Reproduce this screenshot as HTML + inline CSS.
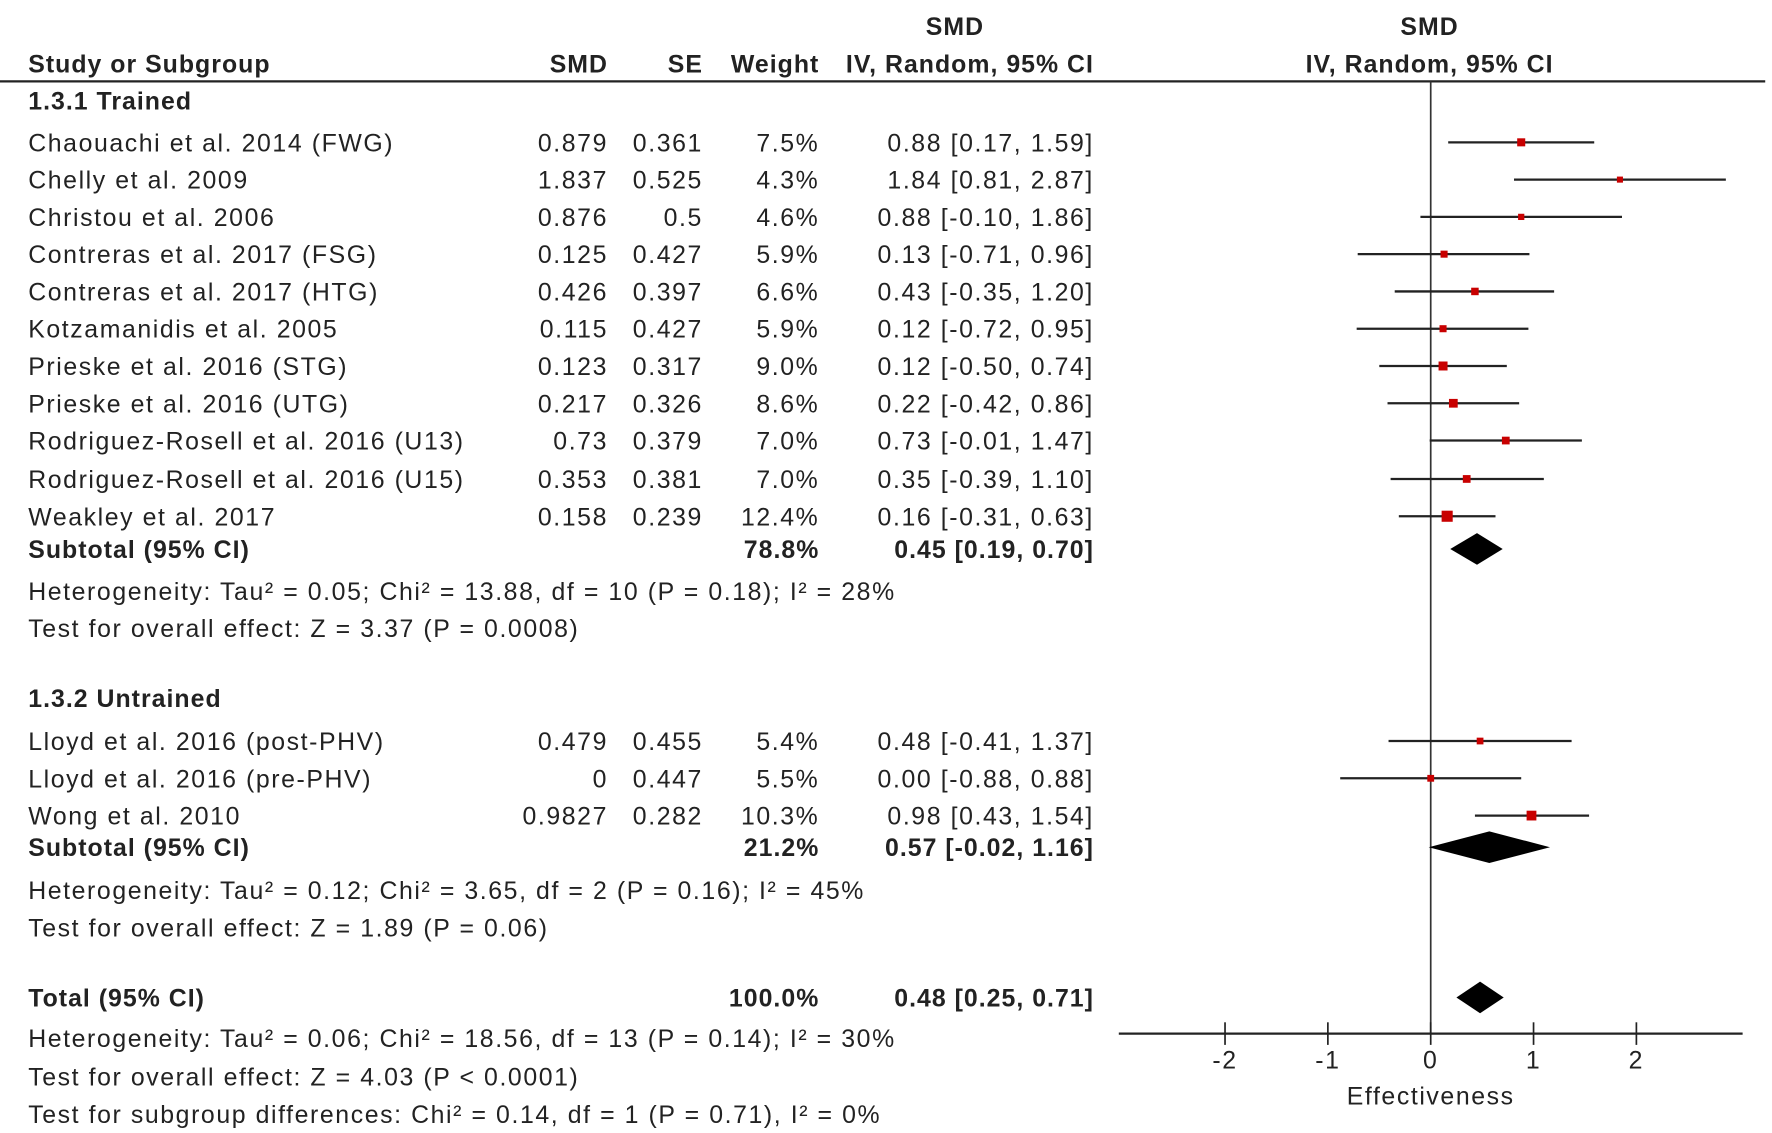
<!DOCTYPE html>
<html><head><meta charset="utf-8"><style>
html,body{margin:0;padding:0;background:#fff;}
svg{display:block;font-family:"Liberation Sans",Arial,sans-serif;}
text{fill:#222;font-size:22px;letter-spacing:1.4px;}
.b{font-weight:bold;letter-spacing:0.9px;}
</style></head><body>
<svg id="chart" width="1772" height="1133" viewBox="0 0 1568 1003" preserveAspectRatio="none" xmlns="http://www.w3.org/2000/svg">
<g id="hdr">
<text x="845" y="31" text-anchor="middle" class="b">SMD</text>
<text x="1265" y="31" text-anchor="middle" class="b">SMD</text>
<text x="25" y="64" class="b">Study or Subgroup</text>
<text x="538" y="64" text-anchor="end" class="b">SMD</text>
<text x="622" y="64" text-anchor="end" class="b">SE</text>
<text x="725" y="64" text-anchor="end" class="b">Weight</text>
<text x="968" y="64" text-anchor="end" class="b">IV, Random, 95% CI</text>
<text x="1265" y="64" text-anchor="middle" class="b">IV, Random, 95% CI</text>
<line x1="0" y1="72" x2="1562" y2="72" stroke="#222" stroke-width="2"/>
</g>
<g id="rows"></g>
<g id="plot"></g>
</svg>
<script>
const names=["Chaouachi et al. 2014 (FWG)","Chelly et al. 2009","Christou et al. 2006","Contreras et al. 2017 (FSG)","Contreras et al. 2017 (HTG)","Kotzamanidis et al. 2005","Prieske et al. 2016 (STG)","Prieske et al. 2016 (UTG)","Rodriguez-Rosell et al. 2016 (U13)","Rodriguez-Rosell et al. 2016 (U15)","Weakley et al. 2017","Lloyd et al. 2016 (post-PHV)","Lloyd et al. 2016 (pre-PHV)","Wong et al. 2010"];
const smdText=["0.879","1.837","0.876","0.125","0.426","0.115","0.123","0.217","0.73","0.353","0.158","0.479","0","0.9827"];
const seText=["0.361","0.525","0.5","0.427","0.397","0.427","0.317","0.326","0.379","0.381","0.239","0.455","0.447","0.282"];
const weights=[7.5,4.3,4.6,5.9,6.6,5.9,9.0,8.6,7.0,7.0,12.4,5.4,5.5,10.3];
const est=[0.88,1.84,0.88,0.13,0.43,0.12,0.12,0.22,0.73,0.35,0.16,0.48,0.00,0.98];
const lo=[0.17,0.81,-0.10,-0.71,-0.35,-0.72,-0.50,-0.42,-0.01,-0.39,-0.31,-0.41,-0.88,0.43];
const hi=[1.59,2.87,1.86,0.96,1.20,0.95,0.74,0.86,1.47,1.10,0.63,1.37,0.88,1.54];
const rowY=[126,159,192,225,258,291,324,357,390,424,457,656,689,722];
const subEst=[0.45,0.57,0.48];
const subLo=[0.19,-0.02,0.25];
const subHi=[0.70,1.16,0.71];
const subW=["78.8%","21.2%","100.0%"];
const subLabel=["Subtotal (95% CI)","Subtotal (95% CI)","Total (95% CI)"];
const subY=[486,750,883];
const ticks=[-2,-1,0,1,2];
const NS="http://www.w3.org/2000/svg";
const x0=1266, unit=91;
function X(v){return x0+v*unit;}
function f2(v){return v.toFixed(2);}
function mk(tag,attrs,parent,txt){const e=document.createElementNS(NS,tag);for(const k in attrs)e.setAttribute(k,attrs[k]);if(txt!==undefined)e.textContent=txt;parent.appendChild(e);return e;}
const rows=document.getElementById('rows'), plot=document.getElementById('plot');
function txt(x,y,s,anchor,bold,name){const e=mk('text',{x:x,y:y+8,'text-anchor':anchor||'start'},rows,s);if(bold)e.setAttribute('class','b');

return e;}
txt(25,89,"1.3.1 Trained","start",true,'subgroup-trained-title');
txt(25,618,"1.3.2 Untrained","start",true,'subgroup-untrained-title');
const vl=mk('line',{x1:X(0),y1:72,x2:X(0),y2:915,stroke:'#333','stroke-width':1.5},plot);


const ax=mk('line',{x1:990,y1:915,x2:1542,y2:915,stroke:'#222','stroke-width':2},plot);


ticks.forEach(t=>{const l=mk('line',{x1:X(t),y1:905,x2:X(t),y2:925,stroke:'#222','stroke-width':1.5},plot);


const tl=mk('text',{x:X(t),y:946,'text-anchor':'middle'},plot,String(t));

});
const at=mk('text',{x:X(0),y:978,'text-anchor':'middle'},plot,"Effectiveness");


names.forEach((n,i)=>{const y=rowY[i];
txt(25,y,n,'start',false,'study-name');
txt(538,y,smdText[i],'end',false,'study-smd');
txt(622,y,seText[i],'end',false,'study-se');
txt(725,y,weights[i].toFixed(1)+"%",'end',false,'study-weight');
txt(968,y,f2(est[i])+" ["+f2(lo[i])+", "+f2(hi[i])+"]",'end',false,'study-ci');
const l=mk('line',{x1:X(lo[i]),y1:y,x2:X(hi[i]),y2:y,stroke:'#222','stroke-width':2},plot);


const s=3+weights[i]*0.55;
const r=mk('rect',{x:X(est[i])-s/2,y:y-s/2,width:s,height:s,fill:'#c80000'},plot);

});
subY.forEach((y,i)=>{
txt(25,y,subLabel[i],'start',true,'subtotal-label');
txt(725,y,subW[i],'end',true,'subtotal-weight');
txt(968,y,f2(subEst[i])+" ["+f2(subLo[i])+", "+f2(subHi[i])+"]",'end',true,'subtotal-ci');
const p=mk('polygon',{points:`${X(subLo[i])},${y} ${X(subEst[i])},${y-14} ${X(subHi[i])},${y} ${X(subEst[i])},${y+14}`,fill:'#000'},plot);

});
const notes=[[523,"Heterogeneity: Tau² = 0.05; Chi² = 13.88, df = 10 (P = 0.18); I² = 28%"],[556,"Test for overall effect: Z = 3.37 (P = 0.0008)"],[788,"Heterogeneity: Tau² = 0.12; Chi² = 3.65, df = 2 (P = 0.16); I² = 45%"],[821,"Test for overall effect: Z = 1.89 (P = 0.06)"],[919,"Heterogeneity: Tau² = 0.06; Chi² = 18.56, df = 13 (P = 0.14); I² = 30%"],[953,"Test for overall effect: Z = 4.03 (P < 0.0001)"],[986,"Test for subgroup differences: Chi² = 0.14, df = 1 (P = 0.71), I² = 0%"]];
notes.forEach(n=>txt(25,n[0],n[1],'start',false,'statistics-note'));
</script>
</body></html>
